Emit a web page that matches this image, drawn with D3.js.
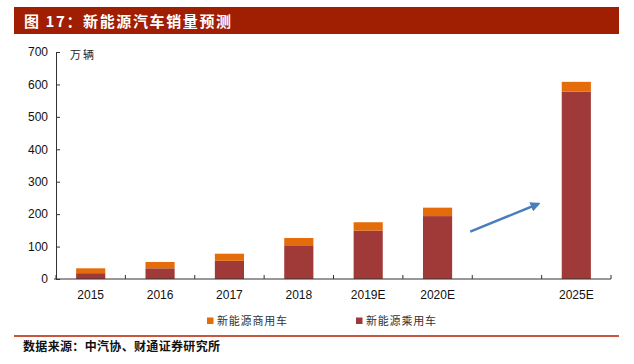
<!DOCTYPE html>
<html>
<head>
<meta charset="utf-8">
<script src="https://cdn.jsdelivr.net/npm/d3@7"></script>
<style>
  body { margin: 0; background: #fff; }
  svg { display: block; }
</style>
</head>
<body>
<svg width="634" height="364"></svg>
<script>
'use strict';

// data (万辆)
const categories = ["2015", "2016", "2017", "2018", "2019E", "2020E", "", "2025E"];
const passenger = [18, 33, 56, 104, 149, 194, 0, 578];
const commercial = [15, 19.5, 22, 22.5, 26, 26, 0, 30];
const yTicks = [0, 100, 200, 300, 400, 500, 600, 700];
const seriesNames = ["新能源商用车", "新能源乘用车"];
// arrow goes across the empty slot, in data units
const arrowFrom = 146;
const arrowTo = 232;

const svg = d3.select("svg");
const cjk = "'Noto Sans CJK SC', 'Noto Sans', sans-serif";
const num = "'Liberation Sans', Arial, sans-serif";
const passColor = "#a03a39";
const commColor = "#e46c0a";

// title band
svg.append("rect")
    .attr("x", 14).attr("y", 7)
    .attr("width", 605).attr("height", 27)
    .attr("fill", "#a01e02");
svg.append("text")
    .attr("x", 24).attr("y", 27)
    .attr("fill", "#fff")
    .attr("font-family", cjk)
    .attr("font-weight", "bold")
    .attr("font-size", 15)
    .attr("textLength", 207)
    .text("图 17：新能源汽车销量预测");

const x = d3.scaleBand()
    .domain(categories)
    .range([56, 611])
    .paddingInner(0.58)
    .paddingOuter(0.29);

const y = d3.scaleLinear()
    .domain([0, 700])
    .range([279, 52]);

const rows = categories.map((c, i) => ({c, p: passenger[i], m: commercial[i]}));

// bars
const bars = svg.append("g");
bars.selectAll("rect.p")
    .data(rows.filter(d => d.c !== ""))
    .join("rect")
    .attr("x", d => x(d.c))
    .attr("width", x.bandwidth())
    .attr("y", d => y(d.p))
    .attr("height", d => y(0) - y(d.p))
    .attr("fill", passColor);
bars.selectAll("rect.m")
    .data(rows.filter(d => d.c !== ""))
    .join("rect")
    .attr("x", d => x(d.c))
    .attr("width", x.bandwidth())
    .attr("y", d => y(d.p + d.m))
    .attr("height", d => y(d.p) - y(d.p + d.m))
    .attr("fill", commColor);

// y axis
const yAxis = svg.append("g")
    .attr("transform", "translate(56,0)")
    .call(d3.axisLeft(y).tickValues(yTicks).tickSize(-4).tickPadding(8));
yAxis.select(".domain").attr("stroke", "#333");
yAxis.selectAll(".tick line").attr("stroke", "#333");
yAxis.selectAll("text")
    .attr("font-family", num)
    .attr("font-size", 12)
    .attr("fill", "#111");

// x axis: ticks at band boundaries, pointing up
const xg = svg.append("g").attr("transform", `translate(0,${y(0)})`);
xg.append("line")
    .attr("x1", 54).attr("x2", 611)
    .attr("stroke", "#333");
xg.selectAll("line.t")
    .data(d3.range(categories.length + 1))
    .join("line")
    .attr("x1", i => 56 + i * x.step())
    .attr("x2", i => 56 + i * x.step())
    .attr("y1", 0).attr("y2", -4)
    .attr("stroke", "#333");
xg.selectAll("text")
    .data(categories)
    .join("text")
    .attr("x", d => x(d) + x.bandwidth() / 2)
    .attr("y", 20)
    .attr("text-anchor", "middle")
    .attr("font-family", num)
    .attr("font-size", 12)
    .attr("fill", "#111")
    .text(d => d);

// unit
svg.append("text")
    .attr("x", 70).attr("y", 59)
    .attr("font-family", cjk)
    .attr("font-size", 11)
    .attr("fill", "#222")
    .attr("textLength", 24)
    .text("万辆");

// arrow
const defs = svg.append("defs");
defs.append("marker")
    .attr("id", "head")
    .attr("viewBox", "0 0 10 10")
    .attr("refX", 8).attr("refY", 5)
    .attr("markerWidth", 4).attr("markerHeight", 4)
    .attr("orient", "auto")
    .append("path")
    .attr("d", "M0,0L10,5L0,10z")
    .attr("fill", "#4a7ebb");
svg.append("line")
    .attr("x1", x("") - x.step() * x.paddingInner() / 2 - 2)
    .attr("y1", y(arrowFrom))
    .attr("x2", x("") + x.bandwidth() + x.step() * x.paddingInner() / 2 - 3)
    .attr("y2", y(arrowTo))
    .attr("stroke", "#4a7ebb")
    .attr("stroke-width", 2.5)
    .attr("marker-end", "url(#head)");

// legend
const legend = svg.append("g");
const lx = [207, 356];
const lc = [commColor, passColor];
seriesNames.forEach((n, i) => {
  legend.append("rect")
      .attr("x", lx[i]).attr("y", 317.5)
      .attr("width", 6.5).attr("height", 6.5)
      .attr("fill", lc[i]);
  legend.append("text")
      .attr("x", lx[i] + 10).attr("y", 324.5)
      .attr("font-family", cjk)
      .attr("font-size", 11)
      .attr("fill", "#333")
      .attr("textLength", 70)
      .text(n);
});

// footer
svg.append("line")
    .attr("x1", 14).attr("x2", 619)
    .attr("y1", 336).attr("y2", 336)
    .attr("stroke", "#c8553d")
    .attr("stroke-width", 2);
svg.append("text")
    .attr("x", 23).attr("y", 350.5)
    .attr("font-family", cjk)
    .attr("font-weight", "bold")
    .attr("font-size", 12)
    .attr("fill", "#111")
    .attr("textLength", 197)
    .text("数据来源：中汽协、财通证券研究所");
</script>
</body>
</html>
